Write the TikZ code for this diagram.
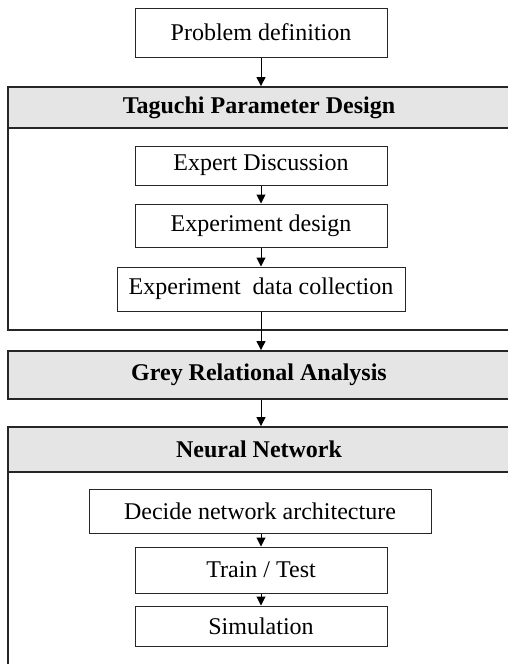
\documentclass[tikz,border=0pt]{standalone}
\usepackage{fontspec}
\setmainfont{Liberation Serif}
\usetikzlibrary{arrows.meta}
\tikzset{
  box/.style={draw=black!85, line width=0.5pt, fill=white, inner sep=0pt, font=\fontsize{12}{14}\selectfont},
  headbar/.style={draw=black!85, line width=0.9pt, fill=black!10, inner sep=0pt, font=\fontsize{12}{14}\selectfont\bfseries},
  frame/.style={draw=black!85, line width=0.9pt, inner sep=0pt},
  arr/.style={-{Triangle[length=4.5pt,width=4.5pt]}, line width=0.5pt, black},
}
\begin{document}
\begin{tikzpicture}[x=0.5pt,y=-0.5pt]
\useasboundingbox (0,0) rectangle (508,664);
\clip (0,0) rectangle (508,664);
% Taguchi section
\node[frame, minimum width=252pt, minimum height=101pt] (tbody) at (260,229) {};
\node[headbar, minimum width=252pt, minimum height=20.5pt] (thead) at (260,107.5) {};
\node (ttext) at (259,107.5) {\fontsize{12}{14}\selectfont\bfseries Taguchi Parameter Design};
% Grey relational
\node[headbar, minimum width=252pt, minimum height=24pt] (gra) at (260,375) {};
\node (gtext) at (259,375) {\fontsize{12}{14}\selectfont\bfseries Grey Relational Analysis};
% Neural network section
\node[frame, minimum width=252pt, minimum height=100pt] (nbody) at (260,572) {};
\node[headbar, minimum width=252pt, minimum height=22.5pt] (nhead) at (260,449.5) {};
\node (ntext) at (259,449.5) {\fontsize{12}{14}\selectfont\bfseries Neural Network};
% boxes
\node[box, minimum width=126pt, minimum height=24.5pt] (prob) at (261,32.5) {Problem definition};
\node[box, minimum width=126pt, minimum height=19.5pt] (exp) at (261,165.5) {Expert Discussion};
\node[box, minimum width=126pt, minimum height=21.5pt] (des) at (261,225.5) {Experiment design};
\node[box, minimum width=144pt, minimum height=22pt] (dat) at (261,289) {Experiment\ \ data collection};
\node[box, minimum width=171pt, minimum height=22pt] (dec) at (260,511) {Decide network architecture};
\node[box, minimum width=126pt, minimum height=23pt] (tt) at (261,570) {Train / Test};
\node[box, minimum width=126pt, minimum height=20pt] (sim) at (261,626) {Simulation};
% arrows
\draw[arr] (prob.south) -- (prob.south |- thead.north);
\draw[arr] (exp.south) -- (des.north);
\draw[arr] (des.south) -- (des.north |- dat.north);
\draw[arr] (dat.south) -- (dat.south |- gra.north);
\draw[arr] (prob.south |- gra.south) -- (prob.south |- nhead.north);
\draw[arr] (dec.south -| tt.north) -- (tt.north);
\draw[arr] (tt.south) -- (sim.north);
\end{tikzpicture}
\end{document}
